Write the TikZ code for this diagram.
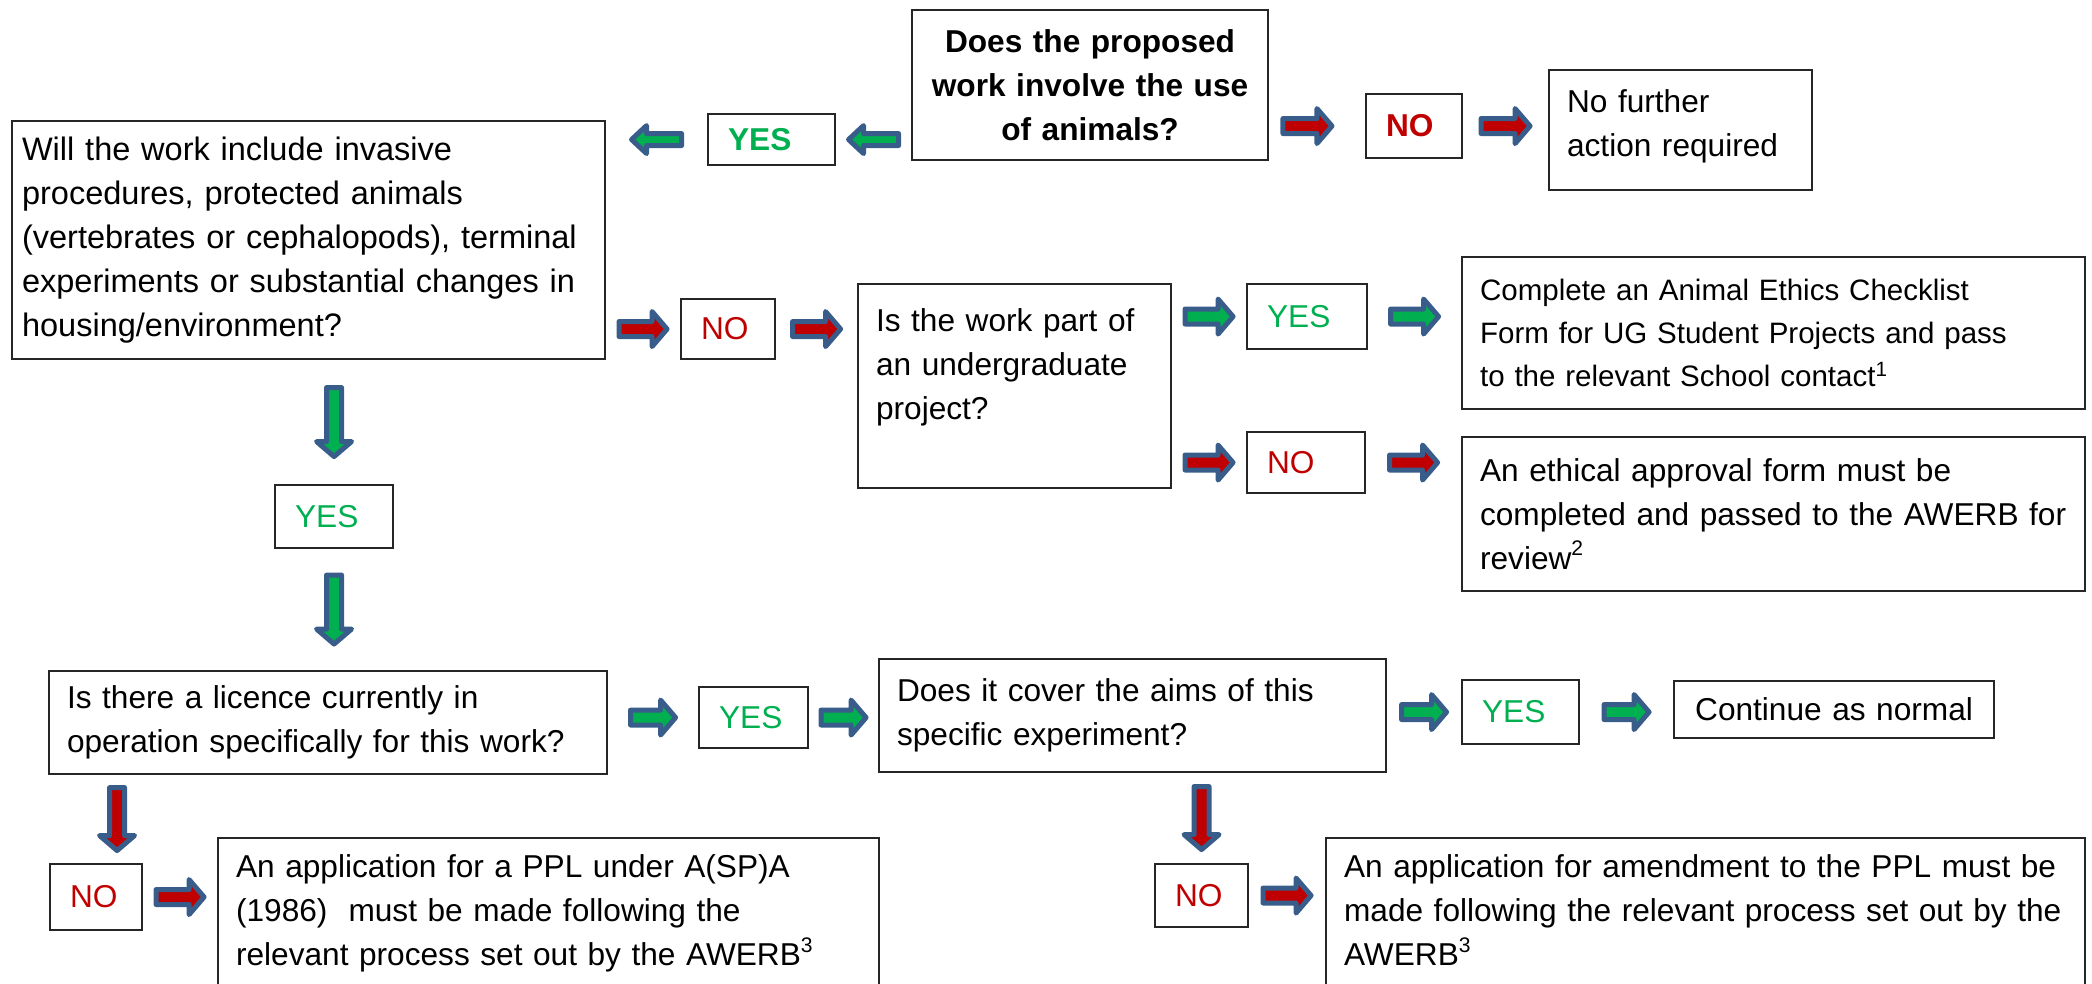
\documentclass[tikz,border=0pt]{standalone}
\usepackage{fontspec}
\setmainfont{Liberation Sans}
\usetikzlibrary{calc}
\hyphenpenalty=10000
\exhyphenpenalty=10000

\definecolor{yesgreen}{HTML}{00B050}
\definecolor{nored}{HTML}{C00000}
\definecolor{arrowblue}{HTML}{385D8A}

% fat arrow: [options]{fill}{angle}{length}{centre}
\newcommand{\blockarrow}[5][]{%
  \draw[arrowline, fill=#2, shift={#5}, rotate=#3, #1]
    (-#4/2+0.025,-0.075) -- (#4/2-0.175,-0.075) -- (#4/2-0.175,-0.175)
    -- (#4/2-0.025,0) -- (#4/2-0.175,0.175) -- (#4/2-0.175,0.075)
    -- (-#4/2+0.025,0.075) -- cycle;}

\begin{document}
\begin{tikzpicture}[
    box/.style={draw=black!85, line width=0.6pt, anchor=north west, align=left,
      inner xsep=0.18cm, inner ysep=0pt, font=\fontsize{9}{12.5}\selectfont},
    bold/.style={font=\fontsize{9}{12.5}\selectfont\bfseries},
    tag/.style={box, inner xsep=0.2cm},
    yes/.style={tag, text=yesgreen},
    no/.style={tag, text=nored},
    arrowline/.style={draw=arrowblue, line width=0.05cm, line join=round}]

  \useasboundingbox (0,0) rectangle (20.92,-9.84);

  % top row
  \node[box, bold, align=center, text width=3.2cm, minimum height=1.5cm] (q1) at (9.11,-0.09) {Does the proposed\\work involve the use\\of animals?};
  \node[yes, bold, text width=0.87cm, minimum height=0.51cm] (yes1) at (7.07,-1.13) {YES};
  \node[no, bold, text width=0.56cm, minimum height=0.64cm] (no1) at (13.65,-0.93) {NO};
  \node[box, text width=2.27cm, minimum height=1.2cm] (stop1) at (15.48,-0.69) {No further\\action required\\[-0.3cm]\mbox{}};

  % second question
  \node[box, inner xsep=0.1cm, text width=5.73cm, minimum height=2.38cm, font=\fontsize{9.25}{12.5}\selectfont] (q2) at (0.11,-1.2) {Will the work include invasive\\procedures, protected animals\\(vertebrates or cephalopods), terminal\\experiments or substantial changes in\\housing/environment?};
  \node[no, text width=0.54cm, minimum height=0.6cm] (no2) at (6.8,-2.98) {NO};
  \node[box, text width=2.77cm, minimum height=2.04cm] (q3) at (8.57,-2.83) {Is the work part of\\an undergraduate\\project?\\\mbox{}};
  \node[yes, text width=0.8cm, minimum height=0.65cm] (yes3) at (12.46,-2.83) {YES};
  \node[box, text width=5.87cm, minimum height=1.52cm, font=\fontsize{8.4}{12.3}\selectfont] (out1) at (14.61,-2.56) {Complete an Animal Ethics Checklist\\Form for UG Student Projects and pass\\to the relevant School contact\textsuperscript{1}};
  \node[no, text width=0.78cm, minimum height=0.61cm] (no3) at (12.46,-4.31) {NO};
  \node[box, text width=5.87cm, minimum height=1.54cm] (out2) at (14.61,-4.36) {An ethical approval form must be\\completed and passed to the AWERB for\\review\textsuperscript{2}};
  \node[yes, text width=0.78cm, minimum height=0.63cm] (yes2) at (2.74,-4.84) {YES};

  % licence row
  \node[box, text width=5.22cm, minimum height=1.03cm] (q4) at (0.48,-6.7) {Is there a licence currently in\\operation specifically for this work?};
  \node[yes, text width=0.69cm, minimum height=0.61cm] (yes4) at (6.98,-6.86) {YES};
  \node[box, text width=4.71cm, minimum height=1.13cm] (q5) at (8.78,-6.58) {Does it cover the aims of this\\specific experiment?};
  \node[yes, text width=0.77cm, minimum height=0.64cm] (yes5) at (14.61,-6.79) {YES};
  \node[box, align=center, inner xsep=0.1cm, text width=3cm, minimum height=0.57cm] (out3) at (16.73,-6.8) {Continue as normal};

  % bottom row
  \node[no, text width=0.52cm, minimum height=0.66cm] (no4) at (0.49,-8.63) {NO};
  \node[box, text width=6.25cm, minimum height=1.88cm] (out4) at (2.17,-8.37) {An application for a PPL under A(SP)A\\(1986)~ must be made following the\\relevant process set out by the AWERB\textsuperscript{3}\\\mbox{}};
  \node[no, text width=0.53cm, minimum height=0.63cm] (no5) at (11.54,-8.63) {NO};
  \node[box, text width=7.23cm, minimum height=1.88cm] (out5) at (13.25,-8.37) {An application for amendment to the PPL must be\\made following the relevant process set out by the\\AWERB\textsuperscript{3}\\\mbox{}};

  % arrows
  \blockarrow[yscale=0.8]{yesgreen}{180}{0.55}{($(q1.west |- yes1)!0.5!(yes1.east)$)}
  \blockarrow[yscale=0.8]{yesgreen}{180}{0.55}{($(yes1.west)!0.5!(q2.east |- yes1)$)}
  \blockarrow{nored}{0}{0.54}{($(q1.east |- no1)!0.4!(no1.west)$)}
  \blockarrow{nored}{0}{0.54}{($(no1.east)!0.5!(stop1.west |- no1)$)}

  \blockarrow{nored}{0}{0.53}{($(q2.east |- no2)!0.5!(no2.west)$)}
  \blockarrow{nored}{0}{0.53}{($(no2.east)!0.5!(q3.west |- no2)$)}
  \blockarrow{yesgreen}{0}{0.53}{($(q3.east |- yes3)!0.5!(yes3.west)$)}
  \blockarrow{yesgreen}{0}{0.53}{($(yes3.east)!0.5!(out1.west |- yes3)$)}
  \blockarrow{nored}{0}{0.53}{($(q3.east |- no3)!0.5!(no3.west)$)}
  \blockarrow{nored}{0}{0.53}{($(no3.east)!0.5!(out2.west |- no3)$)}

  \blockarrow{yesgreen}{-90}{0.74}{($(q2.south -| yes2)!0.5!(yes2.north)$)}
  \blockarrow{yesgreen}{-90}{0.74}{($(yes2.south)!0.5!(q4.north -| yes2)$)}

  \blockarrow{yesgreen}{0}{0.5}{($(q4.east |- yes4)!0.5!(yes4.west)$)}
  \blockarrow{yesgreen}{0}{0.5}{($(yes4.east)!0.5!(q5.west |- yes4)$)}
  \blockarrow{yesgreen}{0}{0.5}{($(q5.east |- yes5)!0.5!(yes5.west)$)}
  \blockarrow{yesgreen}{0}{0.5}{($(yes5.east)!0.5!(out3.west |- yes5)$)}

  \blockarrow{nored}{-90}{0.68}{($(q4.south -| no4)!0.5!(no4.north) + (0.21,0)$)}
  \blockarrow{nored}{-90}{0.68}{($(q5.south -| no5)!0.5!(no5.north)$)}
  \blockarrow{nored}{0}{0.53}{($(no4.east)!0.5!(out4.west |- no4)$)}
  \blockarrow{nored}{0}{0.53}{($(no5.east)!0.5!(out5.west |- no5)$)}
\end{tikzpicture}
\end{document}
